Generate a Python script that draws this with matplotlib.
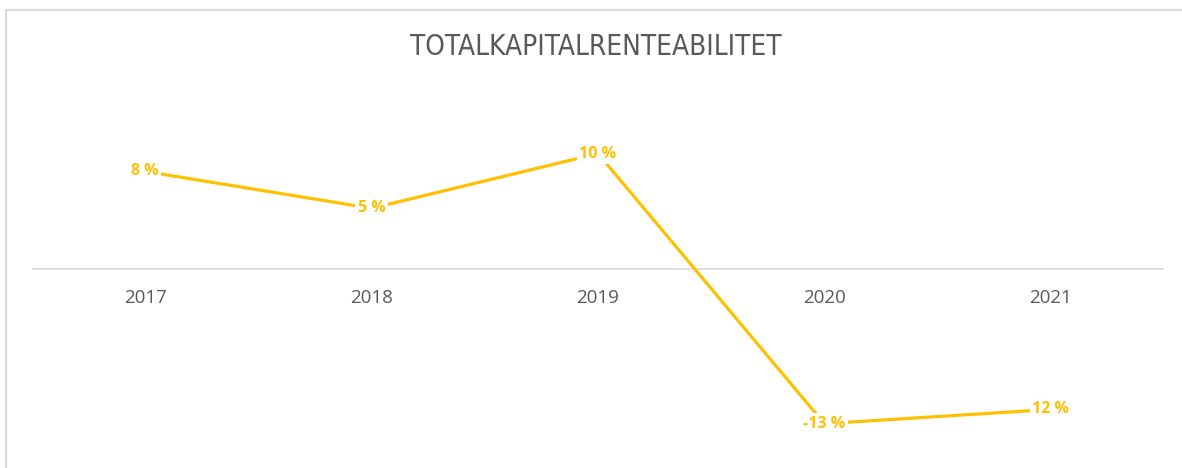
import matplotlib
matplotlib.use("Agg")
import matplotlib.pyplot as plt
from matplotlib.patches import Rectangle

years = ["2017", "2018", "2019", "2020", "2021"]
values = [8.2, 5.1, 9.7, -13.0, -11.8]
labels = ["8 %", "5 %", "10 %", "-13 %", "12 %"]
title = "TOTALKAPITALRENTEABILITET"

W, H = 1182, 468
fig = plt.figure(figsize=(W / 100, H / 100), dpi=100)

# outer border
fig.patches.append(Rectangle((6 / W, -0.1), 1.2, (H - 10) / H + 0.1,
                             transform=fig.transFigure, fill=False,
                             edgecolor="#D9D9D9", linewidth=1.5))

left, right = 32, 1164
top, bottom = 95, 455
ax = fig.add_axes([left / W, 1 - bottom / H, (right - left) / W, (bottom - top) / H])
ax.set_xlim(-0.5, len(years) - 0.5)
ppu = 11.9
ax.set_ylim(-(bottom - 269) / ppu, (269 - top) / ppu)
for s in ax.spines.values():
    s.set_visible(False)
ax.set_yticks([])
ax.set_xticks([])
ax.axhline(0, color="#D9D9D9", linewidth=1.2, zorder=1)

x = list(range(len(years)))
ax.plot(x, values, color="#FFC000", linewidth=2.3, zorder=2, solid_capstyle="butt")

for xi, v, lab in zip(x, values, labels):
    ax.text(xi, v, lab, ha="center", va="center", fontsize=11.5, fontweight="bold",
            color="#FFC000", family=["Open Sans", "DejaVu Sans"], zorder=3,
            bbox=dict(boxstyle="square,pad=0.15", facecolor="white", edgecolor="none"))

for xi, y in zip(x, years):
    ax.text(xi, -(298 - 269) / ppu, y, ha="center", va="center", fontsize=13.5,
            color="#595959", family=["Open Sans", "DejaVu Sans"])

fig.text(596 / W, 1 - 47 / H, title, ha="center", va="center", fontsize=20,
         color="#595959", family=["DejaVu Sans"], fontstretch="condensed")

fig.savefig("out.png", dpi=100, facecolor="white")
